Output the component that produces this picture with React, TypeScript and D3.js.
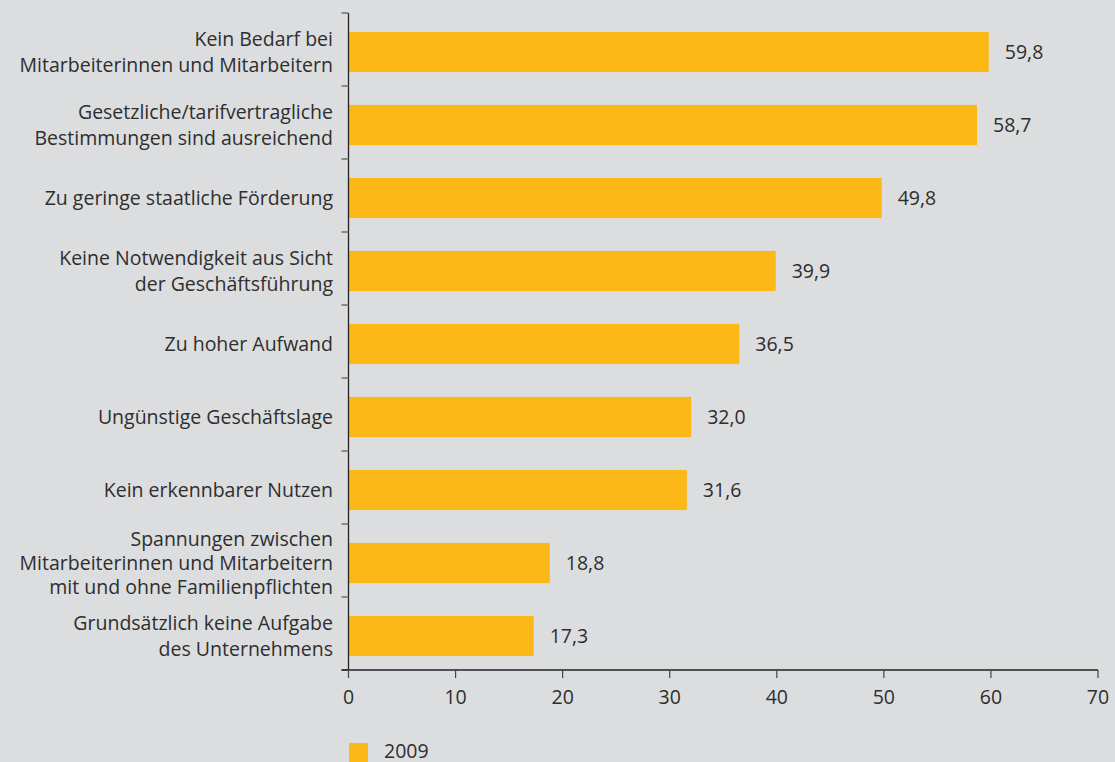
import React from "react";
import * as d3 from "d3";

const categories: string[][] = [
  ["Kein Bedarf bei", "Mitarbeiterinnen und Mitarbeitern"],
  ["Gesetzliche/tarifvertragliche", "Bestimmungen sind ausreichend"],
  ["Zu geringe staatliche Förderung"],
  ["Keine Notwendigkeit aus Sicht", "der Geschäftsführung"],
  ["Zu hoher Aufwand"],
  ["Ungünstige Geschäftslage"],
  ["Kein erkennbarer Nutzen"],
  ["Spannungen zwischen", "Mitarbeiterinnen und Mitarbeitern", "mit und ohne Familienpflichten"],
  ["Grundsätzlich keine Aufgabe", "des Unternehmens"],
];
const values2009: number[] = [59.8, 58.7, 49.8, 39.9, 36.5, 32.0, 31.6, 18.8, 17.3];
const xTicks: number[] = [0, 10, 20, 30, 40, 50, 60, 70];
const seriesName = "2009";

const W = 1115;
const H = 762;
const BG = "#dcdddf";
const BAR = "#fbb817";
const TEXT = "#2e2e2e";
const FONT = "'Open Sans', 'Noto Sans', sans-serif";
const FS = 19.5;

export default function App() {
  const left = 348.5;
  const right = 1098;
  const top = 13;
  const bottom = 670;
  const ids = categories.map((_, i) => String(i));
  const x = d3.scaleLinear().domain([0, 70]).range([left, right]);
  const y = d3
    .scaleBand<string>()
    .domain(ids)
    .range([top, bottom])
    .paddingInner(0.45)
    .paddingOuter(0.225);
  const step = y.step();
  const bw = y.bandwidth();
  const barShift = 2.5;
  const fmt = (v: number) => d3.format(".1f")(v).replace(".", ",");

  return (
    <svg
      width={W}
      height={H}
      style={{ position: "absolute", left: 0, top: 0, display: "block" }}
      fontFamily={FONT}
    >
      <rect x={0} y={0} width={W} height={H} fill={BG} />
      {/* bars */}
      {values2009.map((v, i) => {
        const yy = (y(ids[i]) as number) + barShift;
        return (
          <g key={i}>
            <rect x={x(0)} y={yy} width={x(v) - x(0)} height={bw} fill={BAR} />
            <text
              x={x(v) + 16}
              y={yy + bw / 2}
              dy="0.35em"
              fontSize={FS}
              fill={TEXT}
            >
              {fmt(v)}
            </text>
          </g>
        );
      })}
      {/* category labels */}
      {categories.map((lines, i) => {
        const cy = (y(ids[i]) as number) + barShift + bw / 2;
        const lh = lines.length > 2 ? 24 : 26;
        const start = cy - ((lines.length - 1) * lh) / 2;
        return (
          <text key={i} textAnchor="end" fontSize={FS} fill={TEXT}>
            {lines.map((l, j) => (
              <tspan key={j} x={333} y={start + j * lh} dy="0.35em">
                {l}
              </tspan>
            ))}
          </text>
        );
      })}
      {/* y axis */}
      <line x1={left} x2={left} y1={top} y2={bottom} stroke="#222" strokeWidth={1.3} />
      {d3.range(categories.length + 1).map((i) => {
        const ty = y.range()[0] + i * step;
        return (
          <line key={i} x1={left - 7} x2={left} y1={ty} y2={ty} stroke="#6e6e6e" strokeWidth={1.5} />
        );
      })}
      {/* x axis */}
      <line x1={left - 7} x2={right} y1={bottom} y2={bottom} stroke="#222" strokeWidth={1.3} />
      {xTicks.map((t) => (
        <g key={t}>
          <line x1={x(t)} x2={x(t)} y1={bottom} y2={bottom + 8} stroke="#444" strokeWidth={1.2} />
          <text x={x(t)} y={704} textAnchor="middle" fontSize={FS} fill={TEXT}>
            {t}
          </text>
        </g>
      ))}
      {/* legend */}
      <rect x={349} y={743} width={19} height={19} fill={BAR} />
      <text x={384} y={758} fontSize={FS} fill={TEXT}>
        {seriesName}
      </text>
    </svg>
  );
}
